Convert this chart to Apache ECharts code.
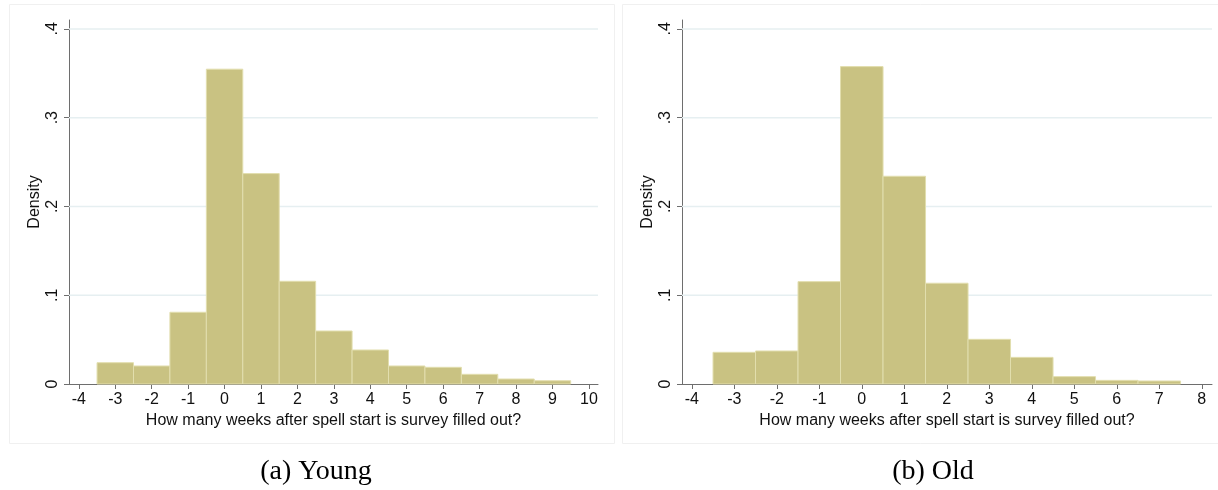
<!DOCTYPE html>
<html>
<head>
<meta charset="utf-8">
<script src="https://cdn.jsdelivr.net/npm/echarts@6/dist/echarts.min.js"></script>
<style>
html,body{margin:0;padding:0;background:#fff;}
#chart{width:1218px;height:490px;}
</style>
</head>
<body>
<div id="chart"></div>
<script>
// Bin centers (weeks), width 1
const youngBins = [-3, -2, -1, 0, 1, 2, 3, 4, 5, 6, 7, 8, 9];
const youngDensity = [0.024, 0.0203, 0.0808, 0.3546, 0.237, 0.1157, 0.0597, 0.0383, 0.0203, 0.0188, 0.0109, 0.0056, 0.0037];
const oldBins = [-3, -2, -1, 0, 1, 2, 3, 4, 5, 6, 7];
const oldDensity = [0.0357, 0.0372, 0.1153, 0.3575, 0.234, 0.1135, 0.0503, 0.030, 0.0083, 0.0041, 0.0034];
const youngXTicks = [-4, -3, -2, -1, 0, 1, 2, 3, 4, 5, 6, 7, 8, 9, 10];
const oldXTicks = [-4, -3, -2, -1, 0, 1, 2, 3, 4, 5, 6, 7, 8];
const yTicks = [0, 0.1, 0.2, 0.3, 0.4];
const xTitle = 'How many weeks after spell start is survey filled out?';
const yTitle = 'Density';
const captions = ['(a) Young', '(b) Old'];

const FILL = '#c9c282';
const EDGE = '#e2deae';
const AXIS = '#6e6e6e';
const GRIDC = '#e6eff1';
const FONT = '"Liberation Sans", Arial, sans-serif';

function yLabel(v) {
  if (Math.abs(v) < 1e-9) return '0';
  return '.' + Math.round(v * 10);
}

function renderBar(params, api) {
  const c = api.value(0), h = api.value(1);
  const p1 = api.coord([c - 0.5, h]);
  const p2 = api.coord([c + 0.5, 0]);
  return {
    type: 'rect',
    shape: { x: p1[0], y: p1[1], width: p2[0] - p1[0], height: p2[1] - p1[1] },
    style: { fill: FILL, stroke: EDGE, lineWidth: 1 }
  };
}

function makeX(idx, min, max, ticks) {
  return {
    type: 'value', gridIndex: idx, min: min, max: max,
    name: xTitle, nameLocation: 'middle', nameGap: 26,
    nameTextStyle: { fontFamily: FONT, fontSize: 16, color: '#111' },
    axisLine: { show: true, onZero: false, lineStyle: { color: AXIS, width: 1 } },
    axisTick: { show: true, length: 5, customValues: ticks, lineStyle: { color: AXIS } },
    axisLabel: { customValues: ticks, margin: 8, fontFamily: FONT, fontSize: 16, color: '#111' },
    splitLine: { show: false }
  };
}
function makeY(idx) {
  return {
    type: 'value', gridIndex: idx, min: 0, max: 0.41,
    name: yTitle, nameLocation: 'middle', nameGap: 26, nameRotate: 90,
    nameTextStyle: { fontFamily: FONT, fontSize: 16, color: '#111' },
    axisLine: { show: true, onZero: false, lineStyle: { color: AXIS, width: 1 } },
    axisTick: { show: true, length: 5, customValues: yTicks, lineStyle: { color: AXIS } },
    axisLabel: { customValues: yTicks, rotate: 90, margin: 8, fontFamily: FONT, fontSize: 16, color: '#111', formatter: yLabel },
    splitLine: { show: false }
  };
}

const chart = echarts.init(document.getElementById('chart'), null, { renderer: 'canvas' });

function gridLines(xIdx, xmin, xmax) {
  return yTicks.filter(v => v > 0).map(v => ({
    type: 'line', xAxisIndex: xIdx, yAxisIndex: xIdx, silent: true, symbol: 'none', z: 0,
    lineStyle: { color: GRIDC, width: 1.5 },
    data: [[xmin, v], [xmax, v]]
  }));
}

const YX = [-4.27, 10.25];
const OX = [-4.23, 8.24];
const CAPFONT = '"Liberation Serif", "Times New Roman", serif';

chart.setOption({
  animation: false,
  backgroundColor: '#fff',
  grid: [
    { left: 69, top: 20, width: 529, height: 364 },
    { left: 682, top: 20, width: 530, height: 364 }
  ],
  xAxis: [makeX(0, YX[0], YX[1], youngXTicks), makeX(1, OX[0], OX[1], oldXTicks)],
  yAxis: [makeY(0), makeY(1)],
  title: [
    { text: captions[0], left: 311, top: 453, textAlign: 'center',
      textStyle: { fontFamily: CAPFONT, fontSize: 28, fontWeight: 'normal', color: '#000' } },
    { text: captions[1], left: 928, top: 453, textAlign: 'center',
      textStyle: { fontFamily: CAPFONT, fontSize: 28, fontWeight: 'normal', color: '#000' } }
  ],
  graphic: [
    { type: 'rect', shape: { x: 9.5, y: 4.5, width: 605, height: 439 }, style: { fill: 'none', stroke: '#f0f0f0', lineWidth: 1 }, z: -10, silent: true },
    { type: 'rect', shape: { x: 622.5, y: 4.5, width: 610, height: 439 }, style: { fill: 'none', stroke: '#f0f0f0', lineWidth: 1 }, z: -10, silent: true }
  ],
  series: [
    ...gridLines(0, YX[0], YX[1]),
    ...gridLines(1, OX[0], OX[1]),
    { type: 'custom', xAxisIndex: 0, yAxisIndex: 0, renderItem: renderBar, z: 2,
      data: youngBins.map((b, i) => [b, youngDensity[i]]) },
    { type: 'custom', xAxisIndex: 1, yAxisIndex: 1, renderItem: renderBar, z: 2,
      data: oldBins.map((b, i) => [b, oldDensity[i]]) }
  ]
});
</script>
</body>
</html>
